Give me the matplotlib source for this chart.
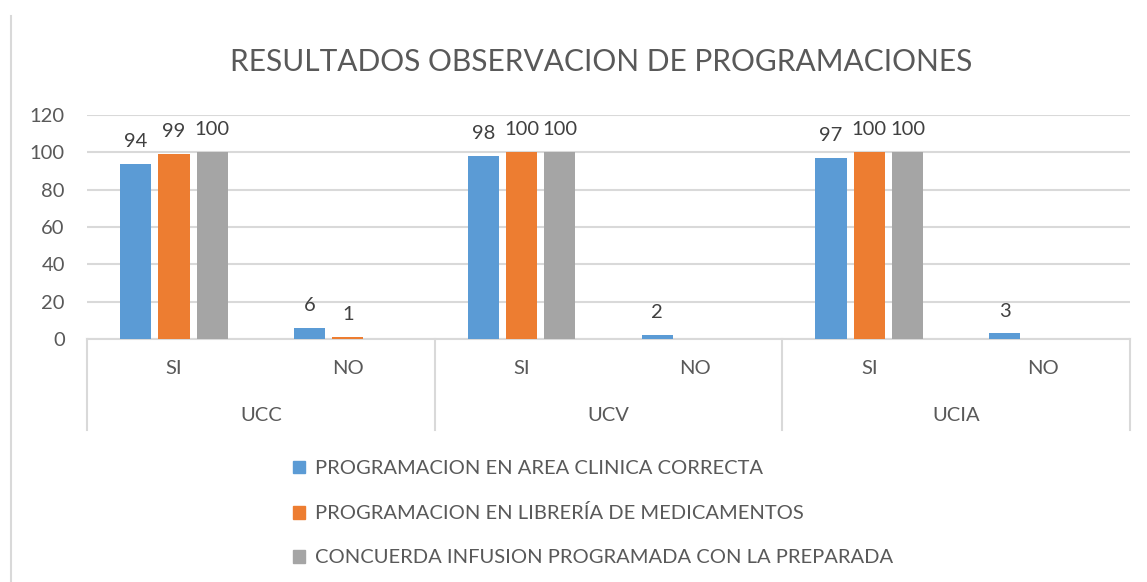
import numpy as np
import matplotlib
matplotlib.use("Agg")
import matplotlib.pyplot as plt
from matplotlib.patches import Patch
from matplotlib.transforms import blended_transform_factory

plt.rcParams['font.family'] = ['Lato', 'DejaVu Sans']

# data
groups = ["UCC", "UCV", "UCIA"]
answers = ["SI", "NO"]
series_names = ["PROGRAMACION EN AREA CLINICA CORRECTA",
                "PROGRAMACION EN LIBRERÍA DE MEDICAMENTOS",
                "CONCUERDA INFUSION PROGRAMADA CON LA PREPARADA"]
area_clinica = [94, 6, 98, 2, 97, 3]
libreria = [99, 1, 100, None, 100, None]
concuerda = [100, None, 100, None, 100, None]
y_ticks = [0, 20, 40, 60, 80, 100, 120]

colors = ["#5B9BD5", "#ED7D31", "#A5A5A5"]
text_col = "#595959"
grid_col = "#D9D9D9"
fs = 14.5

fig = plt.figure(figsize=(11.47, 5.82), dpi=100)
ax = fig.add_axes([87/1147, 243/582, 1043/1147, 224/582])

x = np.arange(len(groups) * len(answers))
width = 0.18
step = 0.22
for k, (vals, col) in enumerate(zip([area_clinica, libreria, concuerda], colors)):
    off = (k - 1) * step
    for xi, v in zip(x, vals):
        if v is None:
            continue
        ax.bar(xi + off, v, width, color=col, zorder=3)
        ax.annotate(str(v), (xi + off, v), xytext=(0, 10), textcoords="offset points",
                    ha="center", va="bottom", fontsize=fs, color="#404040")

ax.set_xlim(-0.5, len(x) - 0.5)
ax.set_ylim(0, 120)
ax.set_yticks(y_ticks)
ax.tick_params(axis="y", length=0, pad=16, labelsize=fs, labelcolor=text_col)
ax.set_xticks([])
ax.grid(axis="y", color=grid_col, linewidth=1.5, zorder=0)
for s in ["top", "right", "left"]:
    ax.spines[s].set_visible(False)
ax.spines["bottom"].set_color(grid_col)
ax.spines["bottom"].set_linewidth(1.5)

# multi-level category axis
tr = blended_transform_factory(ax.transData, ax.transAxes)
for b in np.arange(-0.5, len(x), 2):
    ax.plot([b, b], [0, -0.405], transform=tr, color=grid_col, lw=1.5, clip_on=False)
for i, xi in enumerate(x):
    ax.text(xi, -0.13, answers[i % 2], transform=tr, ha="center", va="center",
            fontsize=fs, color=text_col)
for g, name in enumerate(groups):
    ax.text(2 * g + 0.5, -0.34, name, transform=tr, ha="center", va="center",
            fontsize=fs, color=text_col)

fig.suptitle("RESULTADOS OBSERVACION DE PROGRAMACIONES", x=0.524, y=0.893,
             va="center", fontsize=21.5, color=text_col)

handles = [Patch(color=c) for c in colors]
fig.legend(handles, series_names, loc="upper left", bbox_to_anchor=(283/1147, 1 - 450/582),
           frameon=False, fontsize=fs, labelcolor=text_col, handlelength=0.6,
           handleheight=0.6, handletextpad=0.5, labelspacing=1.35, borderpad=0)

# chart frame edge on the left
fig.add_artist(plt.Line2D([11/1147, 11/1147], [0, 1 - 16/582], color=grid_col, lw=1.5))

fig.savefig("out.png", dpi=100)
